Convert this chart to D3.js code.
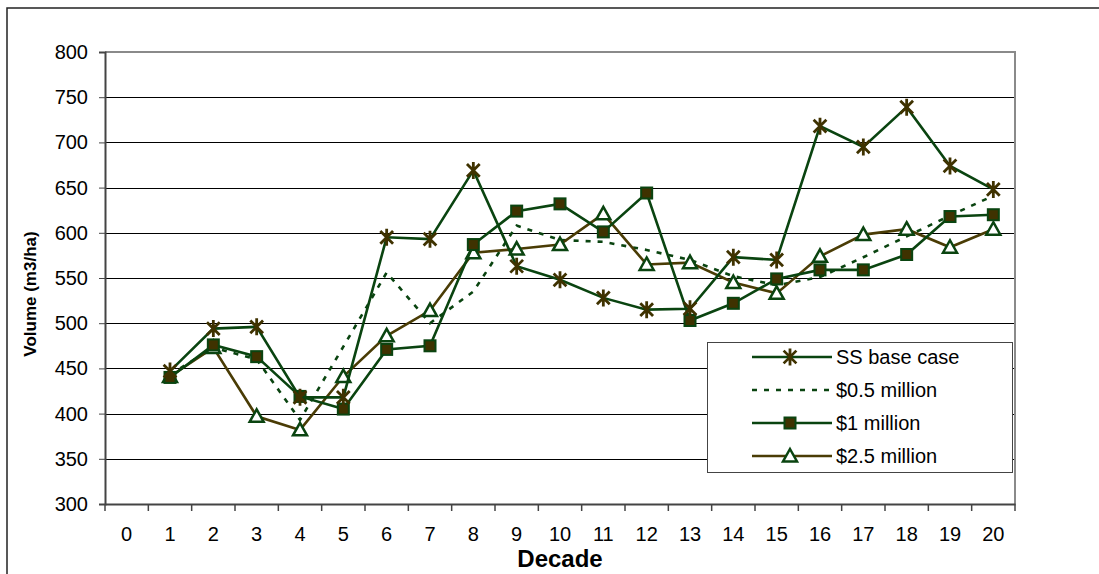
<!DOCTYPE html>
<html>
<head>
<meta charset="utf-8">
<script src="https://cdn.jsdelivr.net/npm/d3@7"></script>
<style>
  body { margin: 0; background: #fff; }
  text { font-family: Arial, "Liberation Sans", sans-serif; }
</style>
</head>
<body>
<script>
// Chart data
let categories = ["0","1","2","3","4","5","6","7","8","9","10","11","12","13","14","15","16","17","18","19","20"];
let pointDecades = ["1","2","3","4","5","6","7","8","9","10","11","12","13","14","15","16","17","18","19","20"];
let ssBase   = [447, 494, 496, 418, 418, 595, 593, 669, 563, 548, 528, 515, 516, 573, 570, 718, 695, 739, 674, 648];
let half     = [443, 473, 460, 393, 474, 556, 500, 535, 608, 592, 590, 581, 570, 552, 542, 551, 573, 596, 619, 641];
let one      = [440, 476, 463, 419, 405, 471, 475, 587, 624, 632, 601, 644, 503, 522, 549, 559, 559, 576, 618, 620];
let twoHalf  = [441, 473, 397, 382, 441, 486, 514, 578, 582, 587, 621, 565, 567, 545, 533, 574, 598, 604, 584, 604];
let yTicks = [300, 350, 400, 450, 500, 550, 600, 650, 700, 750, 800];

let W = 1099, H = 574;
let margin = { top: 52, right: 84, bottom: 70, left: 105 };
let green = "#0a4410", brown = "#3f3200", olive = "#4a3c05";

let svg = d3.select("body").append("svg")
  .attr("width", W).attr("height", H);

// Outer frame (only top and left visible)
svg.append("path")
  .attr("d", "M7,574 V8 H1099")
  .attr("fill", "none").attr("stroke", "#222").attr("stroke-width", 1.5);

let x = d3.scaleBand().domain(categories).range([margin.left, W - margin.right]).padding(0);
let y = d3.scaleLinear().domain([300, 800]).range([H - margin.bottom, margin.top]);

// Gridlines
svg.append("g").selectAll("line")
  .data(yTicks.filter(d => d > 300 && d < 800)).enter()
  .append("line")
    .attr("x1", margin.left).attr("x2", W - margin.right)
    .attr("y1", d => Math.round(y(d)) + 0.5).attr("y2", d => Math.round(y(d)) + 0.5)
    .attr("stroke", "#000").attr("stroke-width", 1);

// Plot area top/right border
svg.append("path")
  .attr("d", `M${margin.left},${y(800)} H${W - margin.right} V${y(300)}`)
  .attr("fill", "none").attr("stroke", "#8a8a8a").attr("stroke-width", 2);

// Y axis
let yAxis = svg.append("g")
  .attr("transform", `translate(${margin.left},0)`)
  .call(d3.axisLeft(y).tickValues(yTicks).tickSize(6).tickPadding(11));
yAxis.select(".domain").attr("stroke", "#444").attr("stroke-width", 2);
yAxis.selectAll(".tick line").attr("stroke", "#444");
yAxis.selectAll("text").style("font-size", "20px").attr("fill", "#000");

// X axis (labels centred in bands, ticks between categories)
let xAxis = svg.append("g")
  .attr("transform", `translate(0,${y(300)})`)
  .call(d3.axisBottom(x).tickSize(0).tickPadding(23));
xAxis.select(".domain").attr("stroke", "#444").attr("stroke-width", 2);
xAxis.selectAll("text").style("font-size", "20px").attr("fill", "#000");
let edges = categories.map(c => x(c)).concat([x(categories[categories.length - 1]) + x.bandwidth()]);
xAxis.selectAll(".edge").data(edges).enter()
  .append("line")
    .attr("x1", d => d).attr("x2", d => d)
    .attr("y1", 0).attr("y2", 7)
    .attr("stroke", "#444").attr("stroke-width", 1.5);

// Axis titles
svg.append("text")
  .attr("transform", "translate(36,294) rotate(-90)")
  .attr("text-anchor", "middle")
  .style("font-size", "17px").style("font-weight", "bold")
  .text("Volume (m3/ha)");
svg.append("text")
  .attr("x", 560).attr("y", 567)
  .attr("text-anchor", "middle")
  .style("font-size", "24px").style("font-weight", "bold")
  .text("Decade");

let cx = d => x(d) + x.bandwidth() / 2;
let line = d3.line().x((d, i) => cx(pointDecades[i])).y(d => y(d));

// Marker shapes
function star(s) {
  let d = 0.75 * s;
  return `M0,${-s}V${s}M${-d},${-d}L${d},${d}M${-d},${d}L${d},${-d}`;
}
function drawStar(g, px, py) {
  g.append("path").attr("transform", `translate(${px},${py})`)
    .attr("d", star(8.5)).attr("stroke", brown).attr("stroke-width", 2.8).attr("fill", "none");
}
function drawSquare(g, px, py) {
  g.append("rect").attr("x", px - 5.5).attr("y", py - 5.5).attr("width", 11).attr("height", 11)
    .attr("fill", brown).attr("stroke", green).attr("stroke-width", 2);
}
function drawTriangle(g, px, py) {
  g.append("path").attr("transform", `translate(${px},${py})`)
    .attr("d", "M0,-7L7,5.5L-7,5.5Z")
    .attr("fill", "#fff").attr("stroke", green).attr("stroke-width", 2.5);
}

let series = [
  { name: "SS base case", values: ssBase, color: green, dash: null, marker: drawStar },
  { name: "$0.5 million", values: half, color: green, dash: "5,7", marker: null },
  { name: "$1 million", values: one, color: green, dash: null, marker: drawSquare },
  { name: "$2.5 million", values: twoHalf, color: olive, dash: null, marker: drawTriangle }
];

// Draw order: dotted first, then others
let order = [1, 3, 2, 0];
order.forEach(k => {
  let s = series[k];
  let g = svg.append("g");
  g.append("path").attr("d", line(s.values))
    .attr("fill", "none").attr("stroke", s.color).attr("stroke-width", 2.6)
    .attr("stroke-dasharray", s.dash);
  if (s.marker) {
    s.values.forEach((v, i) => s.marker(g, cx(pointDecades[i]), y(v)));
  }
});

// Legend
let lg = svg.append("g");
lg.append("rect").attr("x", 707.5).attr("y", 342.5).attr("width", 305).attr("height", 130)
  .attr("fill", "#fff").attr("stroke", "#444").attr("stroke-width", 1);
let rowsY = [357, 390, 423, 456];
series.forEach((s, i) => {
  let ry = rowsY[i];
  lg.append("line").attr("x1", 752).attr("x2", 832).attr("y1", ry).attr("y2", ry)
    .attr("stroke", s.color).attr("stroke-width", 2.6).attr("stroke-dasharray", s.dash);
  if (s.marker) s.marker(lg, 790, ry);
  lg.append("text").attr("x", 836).attr("y", ry).attr("dy", "0.35em")
    .style("font-size", "20px").text(s.name);
});
</script>
</body>
</html>
